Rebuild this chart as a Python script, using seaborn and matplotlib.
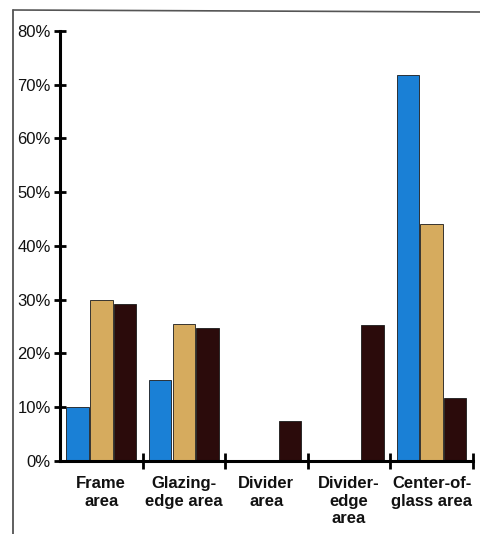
import numpy as np
import pandas as pd
import matplotlib
matplotlib.use("Agg")
import matplotlib.pyplot as plt
from matplotlib.lines import Line2D
from matplotlib.ticker import FixedLocator, PercentFormatter
import seaborn as sns

# values (percent of window heat loss)
categories = ["Frame\narea", "Glazing-\nedge area", "Divider\narea", "Divider-\nedge\narea", "Center-of-\nglass area"]
series = ["Window A", "Window B", "Window C"]
window_a = [10.0, 15.0, 0.0, 0.0, 71.8]
window_b = [30.0, 25.5, 0.0, 0.0, 44.1]
window_c = [29.3, 24.8, 7.4, 25.3, 11.7]
colors = ["#1a80d6", "#d6ab5e", "#2b0b0b"]

df = pd.DataFrame({
    "area": categories * 3,
    "series": np.repeat(series, len(categories)),
    "value": window_a + window_b + window_c,
})

sns.set_style("white")
plt.rcParams["font.family"] = ["Liberation Sans", "DejaVu Sans"]
plt.rcParams["text.color"] = "#111111"
plt.rcParams["xtick.color"] = "#111111"
plt.rcParams["ytick.color"] = "#111111"

fig = plt.figure(figsize=(4.81, 5.34), dpi=100)
ax = fig.add_axes([0.1247, 0.1367, 0.983 - 0.1247, 0.942 - 0.1367])

sns.barplot(data=df, x="area", y="value", hue="series", order=categories,
            hue_order=series, palette=colors, saturation=1, width=0.86, gap=0.05,
            edgecolor="#1a1a1a", linewidth=0.6, legend=False, ax=ax)

ax.set_xlim(-0.5, len(categories) - 0.5)
ax.set_ylim(0, 80)
ax.set_xlabel("")
ax.set_ylabel("")

ax.yaxis.set_major_locator(FixedLocator(np.arange(0, 81, 10)))
ax.yaxis.set_major_formatter(PercentFormatter(decimals=0))
ax.tick_params(axis="y", direction="inout", length=9, width=2, color="black",
               labelsize=12, pad=2, left=True)

ax.set_xticks(range(len(categories)))
ax.set_xticklabels(categories, fontweight="bold", fontsize=12, linespacing=1.2)
ax.tick_params(axis="x", which="major", length=0, pad=11)
ax.xaxis.set_minor_locator(FixedLocator(np.arange(0.5, len(categories), 1.0)))
ax.tick_params(axis="x", which="minor", direction="inout", length=12, width=2,
               color="black", bottom=True)

for side in ["top", "right"]:
    ax.spines[side].set_visible(False)
for side in ["left", "bottom"]:
    ax.spines[side].set_linewidth(2.2)
    ax.spines[side].set_color("black")

# scanned page frame lines
fig.add_artist(Line2D([13 / 481, 13 / 481], [0, 1 - 10 / 534], color="#444444", lw=1.2))
fig.add_artist(Line2D([13 / 481, 1], [1 - 10 / 534, 1 - 12 / 534], color="#555555", lw=1.2))

fig.savefig("out.png", dpi=100)
